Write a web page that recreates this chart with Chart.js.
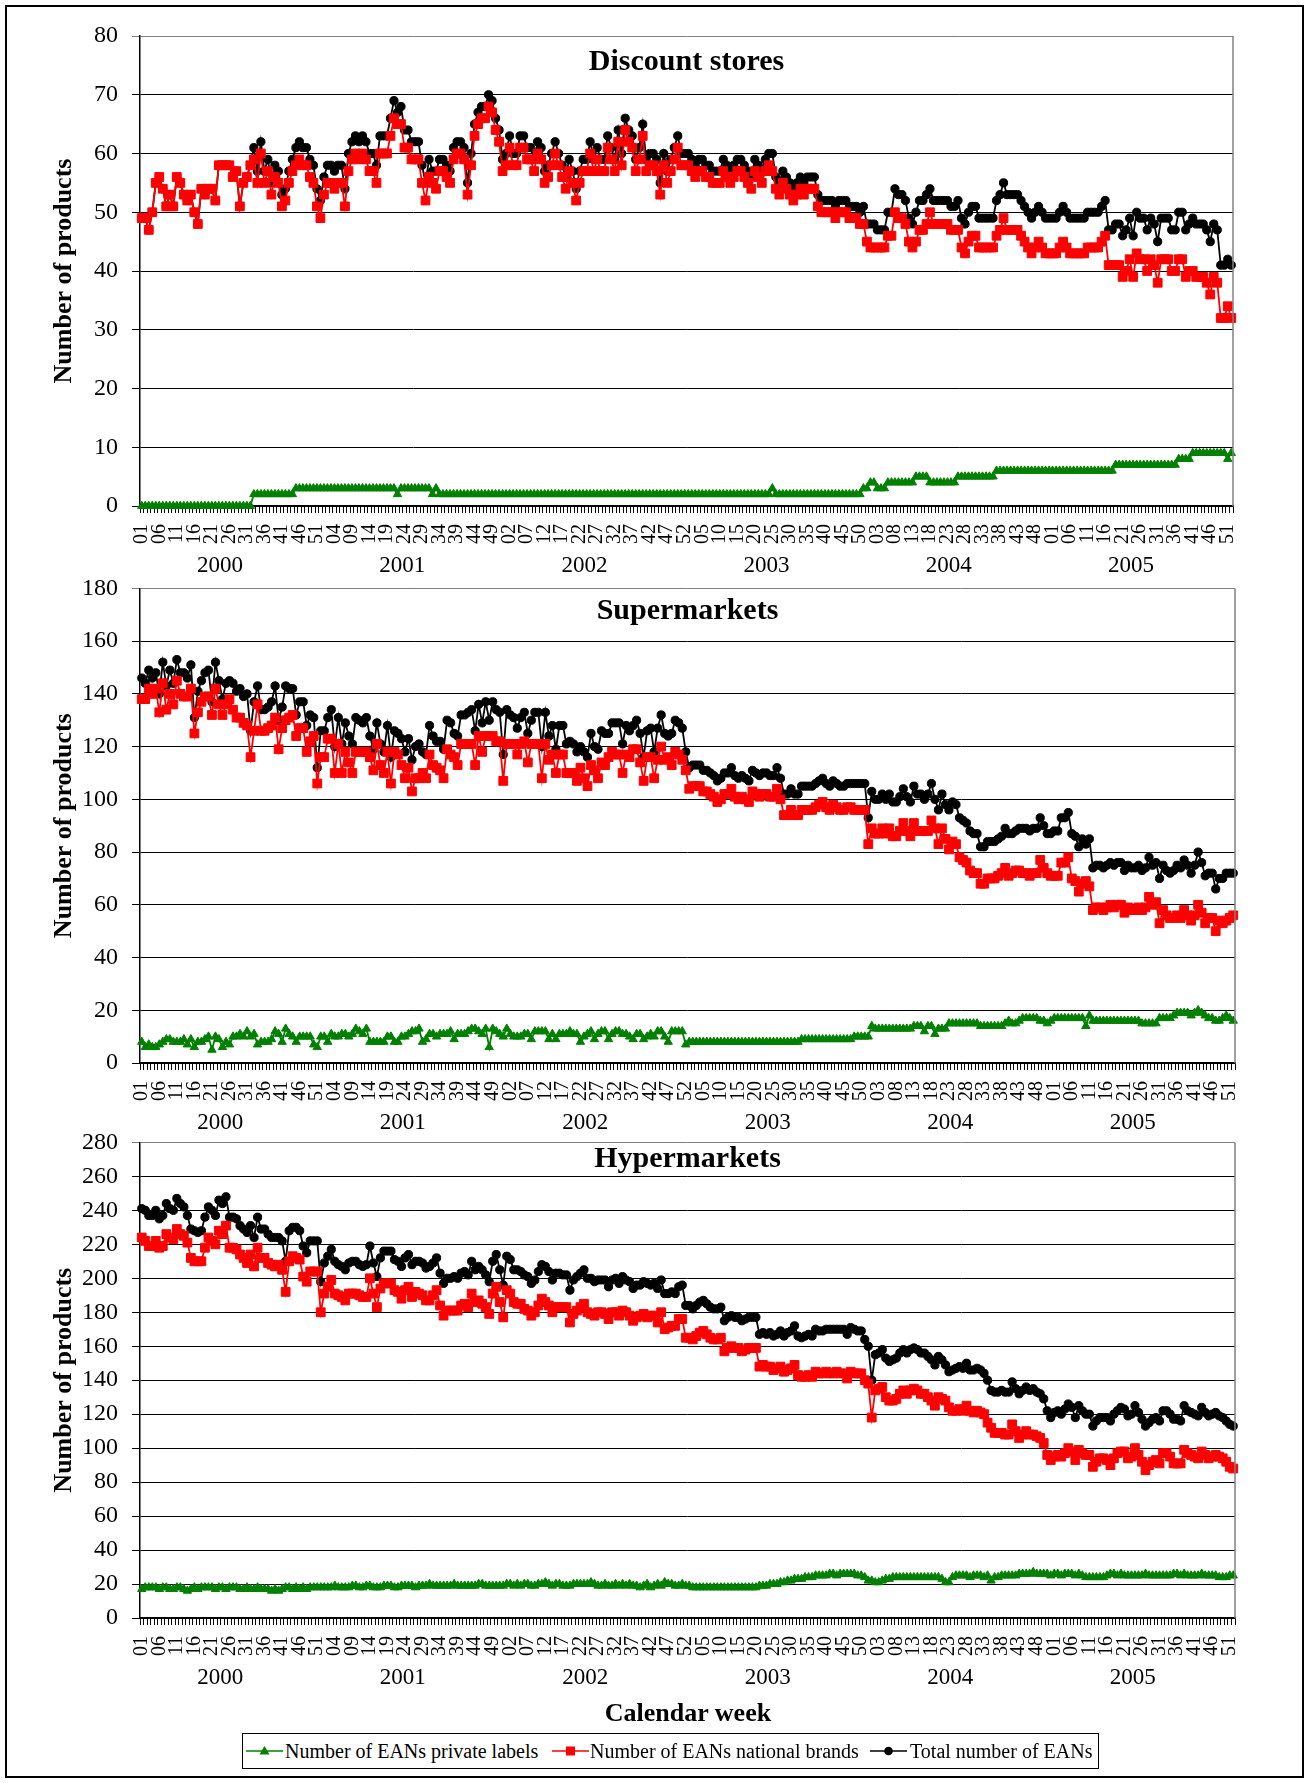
<!DOCTYPE html>
<html>
<head>
<meta charset="utf-8">
<script src="https://cdn.jsdelivr.net/npm/chart.js@4.4.1/dist/chart.umd.min.js"></script>
<style>
body { margin: 0; background: #fff; }
#page { position: relative; width: 1306px; height: 1783px; overflow: hidden; font-family: "Liberation Serif", "Times New Roman", serif; color: #000; }
#frame { position: absolute; left: 5px; top: 5px; width: 1299px; height: 1773px; border: 2px solid #000; box-sizing: border-box; }
canvas { position: absolute; left: 0; }
#xtitle { position: absolute; left: 488px; width: 400px; top: 1697px; text-align: center; font-weight: bold; font-size: 26px; line-height: 32px; }
#legend { position: absolute; left: 242px; top: 1733px; width: 857px; height: 36px; border: 1.5px solid #000; box-sizing: border-box; }
#legend svg { position: absolute; top: 0; }
#legend span { position: absolute; top: 0; font-size: 20px; line-height: 34px; white-space: nowrap; }
</style>
</head>
<body>
<div id="page">
  <div id="frame"></div>
  <canvas id="c1" width="1306" height="580" style="top:0px"></canvas>
  <canvas id="c2" width="1306" height="580" style="top:560px"></canvas>
  <canvas id="c3" width="1306" height="586" style="top:1114px"></canvas>
  <div id="xtitle">Calendar week</div>
  <div id="legend">
    <svg style="left:3px" width="37" height="34"><line x1="0" y1="17" x2="37" y2="17" stroke="#008000" stroke-width="1.5"/><polygon points="18.5,12 23.5,20.5 13.5,20.5" fill="#008000"/></svg>
    <span style="left:42px">Number of EANs private labels</span>
    <svg style="left:309px" width="37" height="34"><line x1="0" y1="17" x2="37" y2="17" stroke="#ff0000" stroke-width="1.5"/><rect x="14" y="12.5" width="9" height="9" fill="#ff0000"/></svg>
    <span style="left:347px">Number of EANs national brands</span>
    <svg style="left:627px" width="37" height="34"><line x1="0" y1="17" x2="37" y2="17" stroke="#000" stroke-width="1.5"/><circle cx="18.5" cy="17" r="4.3" fill="#000"/></svg>
    <span style="left:667px">Total number of EANs</span>
  </div>
</div>
<script>
// year groups and calendar weeks (52 per year)
const years = ['2000', '2001', '2002', '2003', '2004', '2005'];
const weekLabels = [];
years.forEach(function () {
  for (let w = 1; w <= 52; w++) weekLabels.push(String(w).padStart(2, '0'));
});

// ---- Discount stores ----
const discountPrivate = [
  0,0,0,0,0,0,0,0,0,0,0,0,0,0,0,0,0,0,0,0,0,0,0,0,0,0,0,0,0,0,0,0,2,2,2,2,2,2,2,2,2,2,2,2,3,3,3,3,3,3,3,3,
  3,3,3,3,3,3,3,3,3,3,3,3,3,3,3,3,3,3,3,3,3,2,3,3,3,3,3,3,3,3,3,2,3,2,2,2,2,2,2,2,2,2,2,2,2,2,2,2,2,2,2,2,
  2,2,2,2,2,2,2,2,2,2,2,2,2,2,2,2,2,2,2,2,2,2,2,2,2,2,2,2,2,2,2,2,2,2,2,2,2,2,2,2,2,2,2,2,2,2,2,2,2,2,2,2,
  2,2,2,2,2,2,2,2,2,2,2,2,2,2,2,2,2,2,2,2,2,2,2,2,3,2,2,2,2,2,2,2,2,2,2,2,2,2,2,2,2,2,2,2,2,2,2,2,2,2,3,3,
  4,4,3,3,3,4,4,4,4,4,4,4,4,5,5,5,5,4,4,4,4,4,4,4,4,5,5,5,5,5,5,5,5,5,5,5,6,6,6,6,6,6,6,6,6,6,6,6,6,6,6,6,
  6,6,6,6,6,6,6,6,6,6,6,6,6,6,6,6,6,6,7,7,7,7,7,7,7,7,7,7,7,7,7,7,7,7,7,7,8,8,8,8,9,9,9,9,9,9,9,9,9,9,8,9
];
const discountNational = [
  49,49,47,50,55,56,54,51,53,51,56,55,53,52,53,50,48,54,53,54,54,52,58,58,58,58,56,57,51,55,56,58,59,55,60,55,57,53,56,55,51,52,55,57,58,59,58,58,56,55,51,49,
  53,55,55,54,55,55,51,57,59,60,59,60,59,57,57,55,60,60,60,63,66,65,65,61,61,59,59,59,55,52,56,55,54,57,57,56,55,59,60,60,59,53,58,63,65,66,66,68,67,64,62,57,
  58,61,58,58,61,61,59,59,57,60,59,55,56,58,60,58,56,54,57,55,52,55,57,57,60,57,59,57,57,61,59,57,62,58,64,62,61,57,59,63,57,58,58,57,53,58,55,57,59,61,58,58,
  58,57,56,57,57,56,56,55,55,55,57,56,55,56,57,57,56,55,54,57,56,55,57,58,57,54,53,55,54,53,52,53,54,53,54,54,54,51,50,50,50,50,49,50,50,50,49,49,49,48,48,45,
  44,44,44,44,44,46,46,50,49,49,48,45,44,45,47,47,48,50,48,48,48,48,48,47,47,47,44,43,45,46,46,44,44,44,44,44,46,47,49,47,47,47,47,46,45,44,43,44,45,44,43,43,
  43,43,44,45,44,43,43,43,43,43,44,44,44,44,45,46,41,41,41,41,39,40,42,39,43,42,42,40,42,41,38,42,42,42,40,40,42,42,39,40,40,39,39,39,38,36,39,38,32,32,34,32
];
const discountTotal = [
  49,49,47,50,55,56,54,51,53,51,56,55,53,52,53,50,48,54,53,54,54,52,58,58,58,58,56,57,51,55,56,58,61,57,62,57,59,55,58,57,53,54,57,59,61,62,61,61,59,58,54,52,
  56,58,58,57,58,58,54,60,62,63,62,63,62,60,60,58,63,63,63,66,69,67,68,64,64,62,62,62,58,55,59,57,57,59,59,58,57,61,62,62,61,55,60,65,67,68,68,70,69,66,64,59,
  60,63,60,60,63,63,61,61,59,62,61,57,58,60,62,60,58,56,59,57,54,57,59,59,62,59,61,59,59,63,61,59,64,60,66,64,63,59,61,65,59,60,60,59,55,60,57,59,61,63,60,60,
  60,59,58,59,59,58,58,57,57,57,59,58,57,58,59,59,58,57,56,59,58,57,59,60,60,56,55,57,56,55,54,55,56,55,56,56,56,53,52,52,52,52,51,52,52,52,51,51,51,50,51,48,
  48,48,47,47,47,50,50,54,53,53,52,49,48,50,52,52,53,54,52,52,52,52,52,51,51,52,49,48,50,51,51,49,49,49,49,49,52,53,55,53,53,53,53,52,51,50,49,50,51,50,49,49,
  49,49,50,51,50,49,49,49,49,49,50,50,50,50,51,52,47,47,48,48,46,47,49,46,50,49,49,47,49,48,45,49,49,49,47,47,50,50,47,48,49,48,48,48,47,45,48,47,41,41,42,41
];

// ---- Supermarkets ----
const superPrivate = [
  8,6,7,6,6,7,8,9,9,8,8,8,9,7,9,6,8,8,9,10,5,10,9,6,8,7,10,10,11,10,12,10,11,7,8,8,8,9,12,11,8,13,11,10,8,10,10,10,10,7,6,10,
  10,8,11,10,10,11,11,10,11,13,12,11,13,8,8,8,8,8,10,10,8,8,10,10,11,12,12,13,8,9,11,11,10,11,11,11,12,9,11,11,11,12,13,13,12,11,13,6,13,12,11,10,
  13,11,10,10,10,11,11,9,12,12,12,12,9,11,9,11,11,11,12,11,11,8,10,11,12,9,11,12,12,9,11,12,12,11,11,10,9,11,11,9,10,11,10,12,12,10,8,12,12,12,12,7,
  8,8,8,8,8,8,8,8,8,8,8,8,8,8,8,8,8,8,8,8,8,8,8,8,8,8,8,8,8,8,8,8,9,9,9,9,9,9,9,9,9,9,9,9,9,9,9,10,10,10,10,10,
  14,13,13,13,13,13,13,13,13,13,13,13,14,14,14,12,14,14,11,13,13,13,15,15,15,15,15,15,15,15,15,14,14,14,14,14,14,14,15,16,15,15,16,17,17,17,17,17,16,16,15,16,
  17,17,17,17,17,17,17,17,17,14,18,16,16,16,16,16,16,16,16,16,16,16,16,16,16,15,15,15,15,15,17,17,17,17,18,19,19,19,19,18,19,20,19,18,17,17,16,16,17,18,17,16
];
const superNational = [
  138,138,142,140,142,133,144,134,140,136,145,140,139,139,142,125,133,137,139,139,132,142,136,132,136,138,134,131,131,129,128,116,126,136,126,126,127,128,131,119,127,130,131,132,124,127,127,118,122,124,106,116,
  116,123,123,110,121,110,118,114,110,118,118,118,118,116,111,121,113,110,118,106,118,117,113,108,112,103,108,108,110,108,117,113,112,111,108,119,117,116,113,121,121,121,121,113,124,118,124,124,124,122,122,107,
  121,121,121,117,121,122,114,121,121,121,108,121,115,117,110,117,117,110,110,110,107,112,108,105,113,111,108,114,113,116,118,117,117,110,117,116,119,119,114,107,116,116,108,115,120,115,116,113,118,117,115,111,
  104,105,105,105,103,103,102,101,99,100,102,102,104,101,100,101,100,99,103,102,101,102,102,101,101,104,100,94,94,96,94,94,96,96,96,96,97,98,99,97,96,98,97,96,96,97,97,96,96,96,96,83,
  89,87,87,89,87,89,86,86,88,91,88,86,91,88,88,88,88,92,89,83,89,85,81,84,83,78,77,76,73,72,72,68,68,70,70,70,71,72,74,71,72,73,73,72,72,71,72,72,77,74,72,71,
  71,71,76,76,78,70,69,65,68,69,67,58,59,59,58,59,60,59,60,60,57,59,58,58,59,58,59,63,60,61,53,58,56,55,55,56,55,58,56,54,56,60,57,53,55,55,50,54,53,54,55,56
];
const superTotal = [
  146,144,149,146,148,140,152,143,149,144,153,148,148,146,151,131,141,145,148,149,137,152,145,138,144,145,144,141,142,139,140,126,137,143,134,134,135,137,143,130,135,143,142,142,132,137,137,128,132,131,112,126,
  126,131,134,120,131,121,129,124,121,131,130,129,131,124,119,129,121,118,128,116,126,125,123,118,123,115,120,121,118,117,128,124,122,122,119,130,129,125,124,132,132,133,134,126,136,129,137,130,137,134,133,117,
  134,132,131,127,131,133,125,130,133,133,120,133,124,128,119,128,128,121,122,121,118,120,118,116,125,120,119,126,125,125,129,129,129,121,128,126,128,130,125,116,126,127,118,127,132,125,124,125,130,129,127,118,
  112,113,113,113,111,111,110,109,107,108,110,110,112,109,108,109,108,107,111,110,109,110,110,109,109,112,108,102,102,104,102,102,105,105,105,105,106,107,108,106,105,107,106,105,105,106,106,106,106,106,106,93,
  103,100,100,102,100,102,99,99,101,104,101,99,105,102,102,100,102,106,100,96,102,98,96,99,98,93,92,91,88,87,87,82,82,84,84,84,85,86,89,87,87,88,89,89,89,88,89,89,93,90,87,87,
  88,88,93,93,95,87,86,82,85,83,85,74,75,75,74,75,76,75,76,76,73,75,74,74,75,73,74,78,75,76,70,75,73,72,73,75,74,77,75,72,75,80,76,71,72,72,66,70,70,72,72,72
];

// ---- Hypermarkets ----
const hyperPrivate = [
  17,18,18,18,18,17,18,18,17,17,18,18,17,16,17,18,17,18,18,18,18,17,18,18,17,18,18,18,17,17,18,17,17,18,17,17,17,16,17,16,17,18,18,17,18,17,18,17,18,18,18,18,
  18,18,18,19,18,18,18,18,19,19,18,18,19,19,18,18,18,19,19,19,18,18,19,19,19,19,18,19,19,19,20,19,19,19,19,19,19,20,19,19,19,19,19,19,20,20,19,19,19,19,19,19,
  20,20,19,20,19,20,20,19,19,20,20,21,20,19,20,20,19,19,19,20,20,20,20,20,21,20,19,19,20,19,19,20,19,20,19,20,19,19,18,19,20,18,19,20,19,21,20,20,19,19,20,19,
  19,18,18,18,18,18,18,18,18,18,18,18,18,18,18,18,18,18,18,18,19,19,19,20,20,20,21,21,22,22,23,23,23,24,24,24,25,25,25,25,26,26,25,26,26,26,26,26,25,25,24,22,
  22,21,21,22,23,23,24,24,24,24,24,24,24,24,24,24,24,24,24,24,23,21,21,24,25,25,25,25,24,25,25,25,24,25,22,24,24,25,25,25,25,25,26,26,26,26,27,26,26,26,26,25,
  26,26,25,26,26,26,25,26,25,24,24,24,24,24,24,25,26,26,25,26,25,25,25,25,25,25,26,25,25,25,25,25,25,25,26,26,25,26,25,25,25,25,26,25,25,25,25,24,24,24,25,25
];
const hyperNational = [
  224,222,219,219,222,218,219,226,224,223,229,226,225,221,212,210,210,210,218,224,222,220,228,226,231,218,218,217,214,212,209,214,207,218,212,212,209,208,207,208,205,192,210,213,212,211,201,198,204,204,204,180,
  191,195,199,191,190,189,187,191,191,191,190,189,189,200,191,183,194,197,197,197,193,192,188,193,195,189,192,191,190,187,187,190,193,184,178,181,181,181,181,184,185,183,191,186,187,185,183,179,191,195,186,177,
  193,191,186,185,185,182,181,178,180,184,188,186,184,180,183,183,183,183,174,179,181,183,185,180,179,178,180,180,179,176,180,180,178,181,180,178,175,177,178,179,177,178,178,174,180,170,171,172,172,176,176,165,
  165,164,166,168,169,167,165,164,164,165,157,159,160,159,159,157,158,159,159,159,148,149,148,148,146,147,148,145,146,147,149,143,142,142,143,142,145,144,144,145,144,144,145,144,144,141,145,144,144,144,140,138,
  118,134,135,136,130,128,128,129,132,134,132,134,135,134,132,132,130,128,125,130,129,128,124,122,122,123,122,125,122,121,122,121,120,115,112,109,109,109,108,108,114,110,106,108,110,108,108,107,106,103,96,93,
  95,96,95,97,100,98,93,99,97,96,96,89,92,94,94,93,90,94,97,98,98,94,95,100,96,92,87,90,92,93,91,97,97,95,91,91,91,99,97,96,95,94,98,96,94,95,96,95,94,92,89,88
];
const hyperTotal = [
  241,240,237,237,240,235,237,244,241,240,247,244,242,237,229,228,227,228,236,242,240,237,246,244,248,236,236,235,231,229,227,231,224,236,229,229,226,224,224,224,222,210,228,230,230,228,219,215,222,222,222,198,
  209,213,217,210,208,207,205,209,210,210,208,207,208,219,209,201,212,216,216,216,211,210,207,212,214,208,210,210,209,206,207,209,212,203,197,200,200,201,200,203,204,202,210,205,207,205,202,198,210,214,205,196,
  213,211,205,205,204,202,201,197,199,204,208,207,204,199,203,203,202,202,193,199,201,203,205,200,200,198,199,199,199,195,199,200,197,201,199,198,194,196,196,198,197,196,197,194,199,191,191,192,191,195,196,184,
  184,182,184,186,187,185,183,182,182,183,175,177,178,177,177,175,176,177,177,177,167,168,167,168,166,167,169,166,168,169,172,166,165,166,167,166,170,169,169,170,170,170,170,170,170,167,171,170,169,169,164,160,
  140,155,156,158,153,151,152,153,156,158,156,158,159,158,156,156,154,152,149,154,152,149,145,146,147,148,147,150,146,146,147,146,144,140,134,133,133,134,133,133,139,135,132,134,136,134,135,133,132,129,122,118,
  121,122,120,123,126,124,118,125,122,120,120,113,116,118,118,118,116,120,122,124,123,119,120,125,121,117,113,115,117,118,116,122,122,120,117,117,116,125,122,121,120,119,124,121,119,120,121,119,118,116,114,113
];

const FONT = '"Liberation Serif", "Times New Roman", serif';

// panel title, year labels and grey plot border (Excel look)
const panelDeco = {
  id: 'panelDeco',
  afterDraw(chart, args, opts) {
    const ctx = chart.ctx, area = chart.chartArea, xs = chart.scales.x;
    ctx.save();
    ctx.strokeStyle = '#808080';
    ctx.lineWidth = 1.5;
    ctx.beginPath();
    ctx.moveTo(area.right, area.top);
    ctx.lineTo(area.right, area.bottom);
    ctx.stroke();
    ctx.fillStyle = '#000';
    ctx.textAlign = 'center';
    ctx.textBaseline = 'middle';
    ctx.font = 'bold 30px ' + FONT;
    ctx.fillText(opts.title, (area.left + area.right) / 2, opts.titleY);
    ctx.font = '23px ' + FONT;
    years.forEach(function (yr, k) {
      const x = (xs.getPixelForValue(k * 52) + xs.getPixelForValue(k * 52 + 51)) / 2 - 11;
      ctx.fillText(yr, x, area.bottom + 60);
    });
    ctx.restore();
  }
};

function makeChart(id, title, titleY, pl, nat, tot, yMax, yStep, padTop, padRight, xHeight) {
  const ds = function (label, data, color, style, r) {
    return { label: label, data: data, borderColor: color, backgroundColor: color,
      pointStyle: style, pointRadius: r, pointBorderWidth: 1, borderWidth: 1.8, clip: false };
  };
  return new Chart(document.getElementById(id), {
    type: 'line',
    data: {
      labels: weekLabels,
      datasets: [
        ds('Number of EANs private labels', pl, '#008000', 'triangle', 4.8),
        ds('Number of EANs national brands', nat, '#ff0000', 'rect', 6.2),
        ds('Total number of EANs', tot, '#000000', 'circle', 4.1)
      ]
    },
    options: {
      responsive: false,
      animation: false,
      layout: { padding: { top: padTop, right: padRight, left: 0, bottom: 0 } },
      plugins: {
        legend: { display: false },
        tooltip: { enabled: false },
        panelDeco: { title: title, titleY: titleY }
      },
      scales: {
        x: {
          offset: true,
          grid: { offset: true, drawOnChartArea: false, tickLength: 7, color: '#000', lineWidth: 1 },
          border: { color: '#000', width: 1.5 },
          ticks: {
            autoSkip: false, minRotation: 90, maxRotation: 90, padding: 11, color: '#000',
            font: { family: FONT, size: 20 },
            callback: function (v, i) { return i % 5 === 0 ? weekLabels[i] : ''; }
          },
          afterFit: function (s) { s.height = xHeight; }
        },
        y: {
          min: 0, max: yMax,
          grid: {
            tickLength: 8, lineWidth: 1,
            color: function (c) { return c.tick && c.tick.value === yMax ? '#808080' : '#000'; }
          },
          border: { color: '#000', width: 1.5 },
          ticks: { stepSize: yStep, padding: 14, color: '#000', font: { family: FONT, size: 24 } },
          title: {
            display: true, text: 'Number of products', color: '#000',
            font: { family: FONT, size: 26, weight: 'bold' },
            padding: { top: 49, bottom: 0 }
          },
          afterFit: function (s) { s.width = 140; }
        }
      }
    },
    plugins: [panelDeco]
  });
}

makeChart('c1', 'Discount stores', 62, discountPrivate, discountNational, discountTotal, 80, 10, 36, 73, 74);
makeChart('c2', 'Supermarkets', 51, superPrivate, superNational, superTotal, 180, 20, 28, 71, 77);
makeChart('c3', 'Hypermarkets', 45, hyperPrivate, hyperNational, hyperTotal, 280, 20, 28, 71, 82);
</script>
</body>
</html>
